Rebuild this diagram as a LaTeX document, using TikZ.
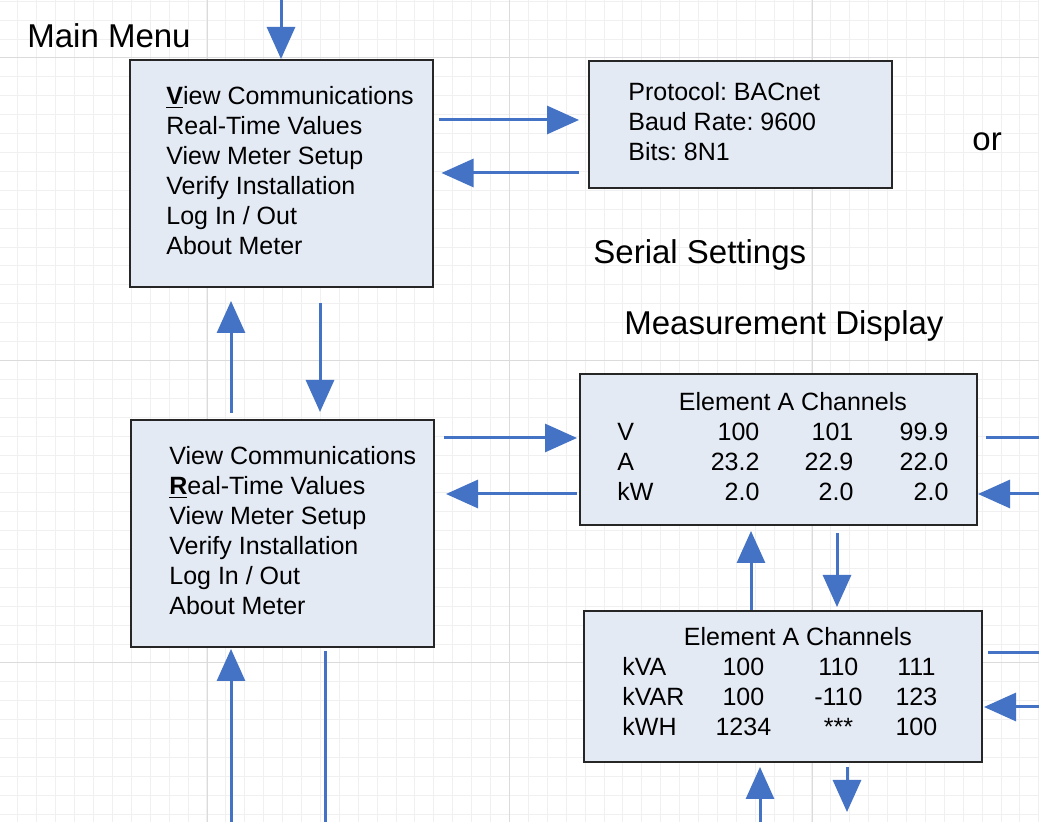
\documentclass[tikz,border=0pt]{standalone}
\usepackage{fontspec}
\setmainfont{Liberation Sans}
\usepackage{array}
\usetikzlibrary{positioning, arrows.meta}
\definecolor{arrowblue}{RGB}{68,114,196}
\definecolor{boxfill}{RGB}{228,234,244}
\setlength{\tabcolsep}{0pt}
\frenchspacing

\begin{document}
\begin{tikzpicture}[
        x=0.5pt, y=-0.5pt,
        screen/.style={rectangle, draw=black!85, line width=1pt, fill=boxfill, inner sep=0pt},
        menu/.style={screen, minimum width=151.5pt, minimum height=113.5pt},
        items/.style={anchor=west, inner sep=0pt, align=left, font=\fontsize{12.5}{15}\selectfont},
        readout/.style={anchor=base west, inner sep=0pt, font=\fontsize{12.5}{15}\selectfont},
        heading/.style={anchor=base west, inner sep=0pt, font=\fontsize{16.5}{20}\selectfont},
        flow/.style={-{Triangle[length=16pt, width=14pt]}, line width=1.5pt, arrowblue},
        link/.style={line width=1.5pt, arrowblue},
        gridminor/.style={black!6, line width=0.5pt},
        gridmajor/.style={black!14, line width=0.5pt}
    ]
        \useasboundingbox (0,0) rectangle (1039,822);
        \fill[white] (0,0) rectangle (1039,822);

        % Background grid
        \foreach \k in {1,...,55} \draw[gridminor] ({-0.97+\k*18.906},0) -- ({-0.97+\k*18.906},822);
        \foreach \k in {0,...,43} \draw[gridminor] (0,{1.28+\k*18.906}) -- (1039,{1.28+\k*18.906});
        \foreach \gx in {207,509.5,812} \draw[gridmajor] (\gx,0) -- (\gx,822);
        \foreach \gy in {58,360.5,663} \draw[gridmajor] (0,\gy) -- (1039,\gy);

        % Screens
        \node[menu] (mainmenu) at (281,173.5) {};
        \node[menu] (rtmenu) at (282.5,533.5) {};
        \node[screen, minimum width=151.5pt, minimum height=63.5pt] (serial) at (740.5,124.5) {};
        \node[screen, minimum width=198.5pt, minimum height=75.5pt] (elemA) at (778.5,449.5) {};
        \node[screen, minimum width=199pt, minimum height=75.5pt] (elemB) at (783,686.5) {};

        % Screen contents
        \node[items] (mainitems) at (166,170.5) {\underline{\textbf{V}}iew Communications\\Real-Time Values\\View Meter Setup\\Verify Installation\\Log In / Out\\About Meter};
        \node[items] (rtitems) at (169,531) {View Communications\\\underline{\textbf{R}}eal-Time Values\\View Meter Setup\\Verify Installation\\Log In / Out\\About Meter};
        \node[items] (serialitems) at (628,122) {Protocol: BACnet\\Baud Rate: 9600\\Bits: 8N1};
        \node[readout] (elemAitems) at (617,411) {\begin{tabular}[t]{w{l}{30pt}w{r}{41pt}w{r}{47pt}w{r}{47.5pt}}
            \multicolumn{4}{@{\hspace{10pt}}c}{Element A Channels}\\
            V & 100 & 101 & 99.9\\
            A & 23.2 & 22.9 & 22.0\\
            kW & 2.0 & 2.0 & 2.0
        \end{tabular}};
        \node[readout] (elemBitems) at (622,646) {\begin{tabular}[t]{w{l}{33pt}w{c}{55pt}w{c}{40pt}w{c}{38pt}}
            \multicolumn{4}{@{\hspace{9.5pt}}c}{Element A Channels}\\
            kVA & 100 & 110 & 111\\
            kVAR & 100 & -110 & 123\\
            kWH & 1234 & *** & 100
        \end{tabular}};

        % Labels
        \node[heading] (mainlabel) at (27,48) {Main Menu};
        \node[heading] (seriallabel) at (593,264) {Serial Settings};
        \node[heading] (measlabel) at (624,335) {Measurement Display};
        \node[heading] (orlabel) at (972,151) {or};

        % Free ends
        \coordinate (entry) at (281,0);
        \coordinate (rtin) at (231,822);
        \coordinate (rtout) at (325,822);
        \coordinate (aout) at (1039,438);
        \coordinate (ain) at (1039,494);
        \coordinate (bout) at (1039,653);
        \coordinate (bin) at (1039,707);
        \coordinate (bupin) at (760,822);
        \coordinate (bdown) at (847,812);

        % Connections
        \draw[flow] (entry) -- (mainmenu.north);
        \draw[flow] ([shift={(5,-53.5)}]mainmenu.east) -- ([shift={(-9,-4.5)}]serial.west);
        \draw[flow] ([shift={(-9,48.5)}]serial.west) -- ([shift={(8,-0.5)}]mainmenu.east);
        \draw[flow] ([shift={(-51.5,-6)}]rtmenu.north) -- ([shift={(-50,13)}]mainmenu.south);
        \draw[flow] ([shift={(39,15)}]mainmenu.south) -- ([shift={(37.5,-7)}]rtmenu.north);
        \draw[flow] ([shift={(9,-95.5)}]rtmenu.east) -- ([shift={(-2,-11.5)}]elemA.west);
        \draw[flow] ([shift={(-2,44.5)}]elemA.west) -- ([shift={(11,-39.5)}]rtmenu.east);
        \draw[flow] (rtin) -- ([shift={(-51.5,1)}]rtmenu.south);
        \draw[link] ([shift={(42.5,3)}]rtmenu.south) -- (rtout);
        \draw[link] ([shift={(8,-11.5)}]elemA.east) -- (aout);
        \draw[flow] (ain) -- ([shift={(0,44.5)}]elemA.east);
        \draw[flow] ([shift={(-32,0)}]elemB.north) -- ([shift={(-27.5,5)}]elemA.south);
        \draw[flow] ([shift={(58.5,7)}]elemA.south) -- ([shift={(54,-3)}]elemB.north);
        \draw[link] ([shift={(5,-33.5)}]elemB.east) -- (bout);
        \draw[flow] (bin) -- ([shift={(1,20.5)}]elemB.east);
        \draw[flow] (bupin) -- ([shift={(-23,4)}]elemB.south);
        \draw[flow] ([shift={(64,4)}]elemB.south) -- (bdown);
    \end{tikzpicture}
\end{document}
